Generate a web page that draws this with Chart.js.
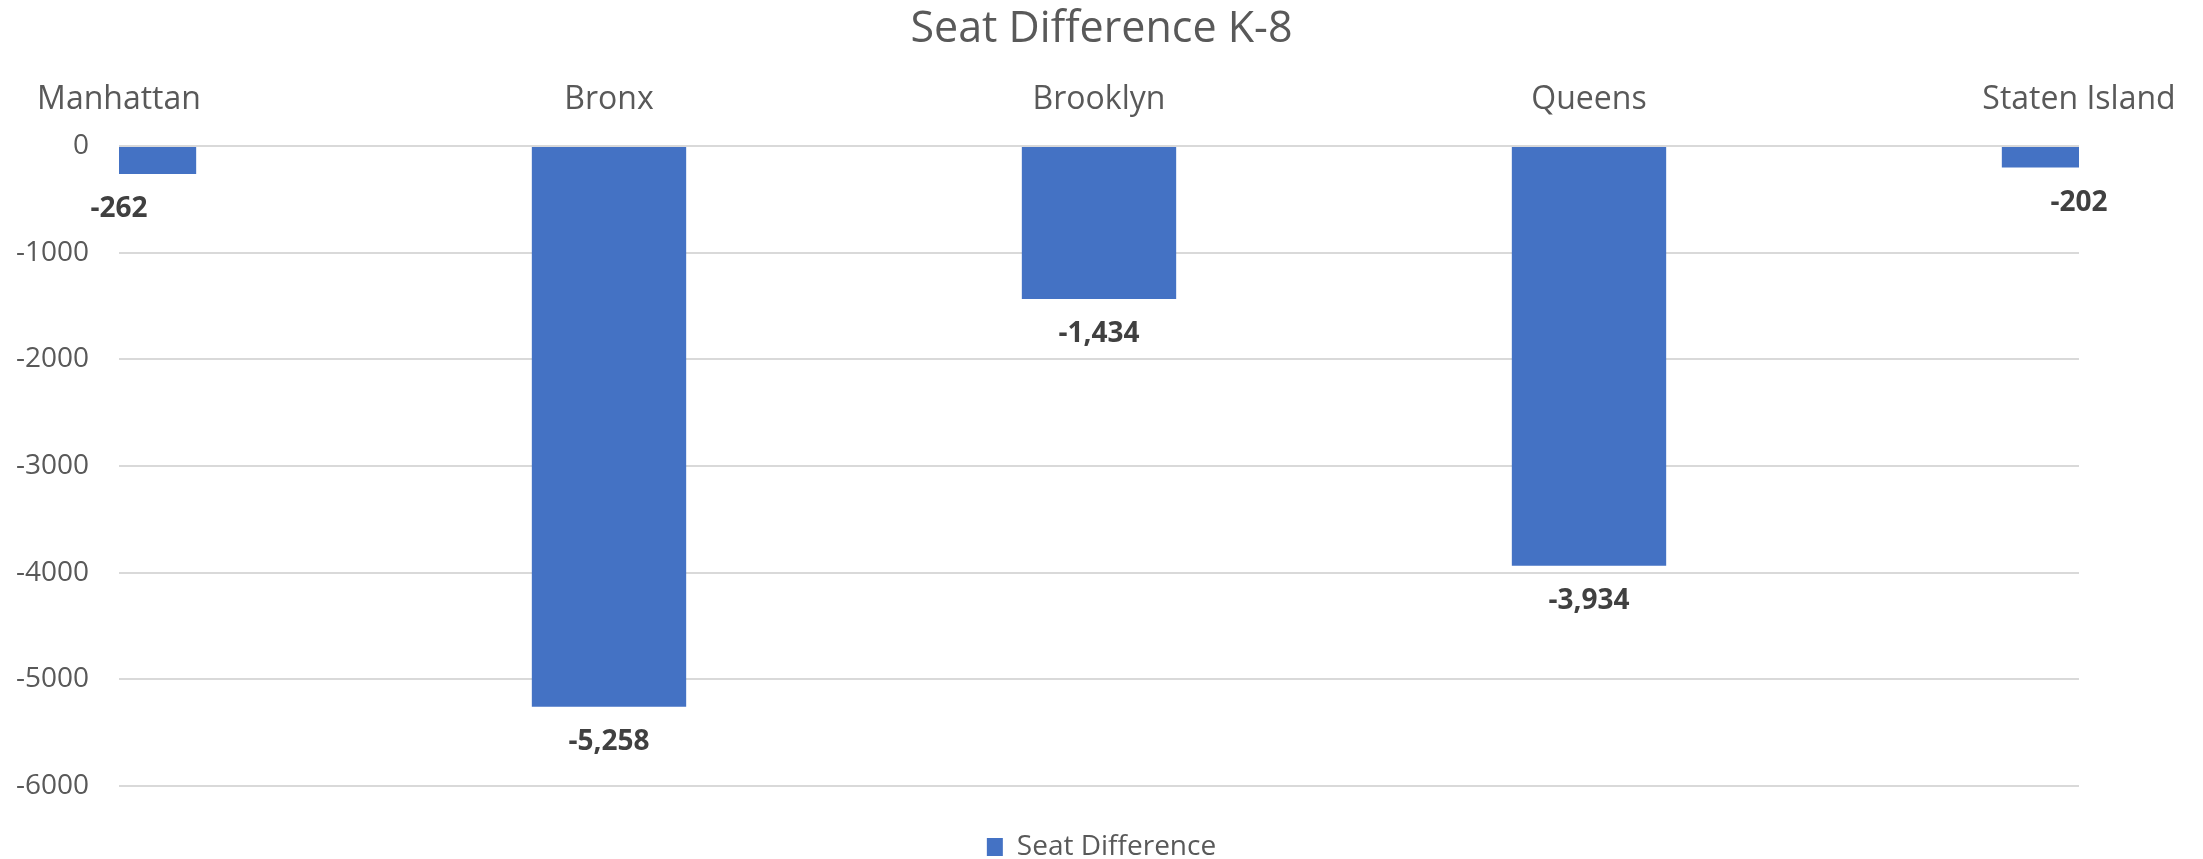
<!DOCTYPE html>
<html>
<head>
<meta charset="utf-8">
<title>Seat Difference K-8</title>
<script src="https://cdn.jsdelivr.net/npm/chart.js@4.4.0/dist/chart.umd.min.js"></script>
<style>
    html, body { margin: 0; padding: 0; background: #fff; }
    #wrap { width: 2203px; height: 859px; }
</style>
</head>
<body>
<div id="wrap"><canvas id="seat-chart"></canvas></div>
<script>
var boroughs = ['Manhattan', 'Bronx', 'Brooklyn', 'Queens', 'Staten Island'];
var seatDifference = [-262, -5258, -1434, -3934, -202];
var yTicks = [0, -1000, -2000, -3000, -4000, -5000, -6000];

var textGrey = '#595959';

// value labels under each bar, like the spreadsheet's data labels
var barValueLabels = {
    id: 'barValueLabels',
    afterDatasetsDraw: function (chart) {
        var ctx = chart.ctx;
        var meta = chart.getDatasetMeta(0);
        ctx.save();
        ctx.font = 'bold 28px "Open Sans"';
        ctx.fillStyle = '#404040';
        ctx.textAlign = 'center';
        ctx.textBaseline = 'middle';
        meta.data.forEach(function (bar, i) {
            ctx.fillText(seatDifference[i].toLocaleString('en-US'), bar.x, bar.y + 35);
        });
        ctx.restore();
    }
};

Chart.defaults.font.family = '"Open Sans", sans-serif';

new Chart(document.getElementById('seat-chart'), {
    type: 'bar',
    data: {
        labels: boroughs,
        datasets: [{
            label: 'Seat Difference',
            data: seatDifference,
            backgroundColor: '#4472C4',
            borderWidth: 0,
            categoryPercentage: 0.315,
            barPercentage: 1,
            clip: 0
        }]
    },
    plugins: [barValueLabels],
    options: {
        responsive: true,
        maintainAspectRatio: false,
        animation: false,
        layout: { padding: { left: 0, right: 0, top: 0, bottom: -12 } },
        plugins: {
            title: {
                display: true,
                text: 'Seat Difference K-8',
                color: textGrey,
                font: { size: 43, weight: 'normal' },
                padding: { top: 4, bottom: 25 }
            },
            legend: {
                position: 'bottom',
                labels: {
                    color: textGrey,
                    font: { size: 28 },
                    boxWidth: 16,
                    boxHeight: 18,
                    padding: 47
                }
            },
            tooltip: { enabled: false }
        },
        scales: {
            x: {
                position: 'top',
                offset: false,
                grid: { display: false, drawTicks: false },
                border: { display: false },
                ticks: {
                    color: textGrey,
                    font: { size: 32 },
                    padding: 27,
                    maxRotation: 0,
                    autoSkip: false
                },
                // label line (38.4) + one padding, not two
                afterFit: function (scale) { scale.height = 65.4; }
            },
            y: {
                min: Math.min.apply(null, yTicks),
                max: Math.max.apply(null, yTicks),
                grid: { color: '#d9d9d9', lineWidth: 2, drawTicks: false },
                border: { display: false },
                ticks: {
                    stepSize: yTicks[0] - yTicks[1],
                    padding: 30,
                    color: textGrey,
                    font: { size: 28 },
                    callback: function (value) { return String(value); }
                },
                afterFit: function (scale) { scale.width = 119; }
            },
            yRight: {
                position: 'right',
                grid: { display: false, drawTicks: false },
                border: { display: false },
                ticks: { display: false },
                afterFit: function (scale) { scale.width = 124; }
            }
        }
    }
});
</script>
</body>
</html>
